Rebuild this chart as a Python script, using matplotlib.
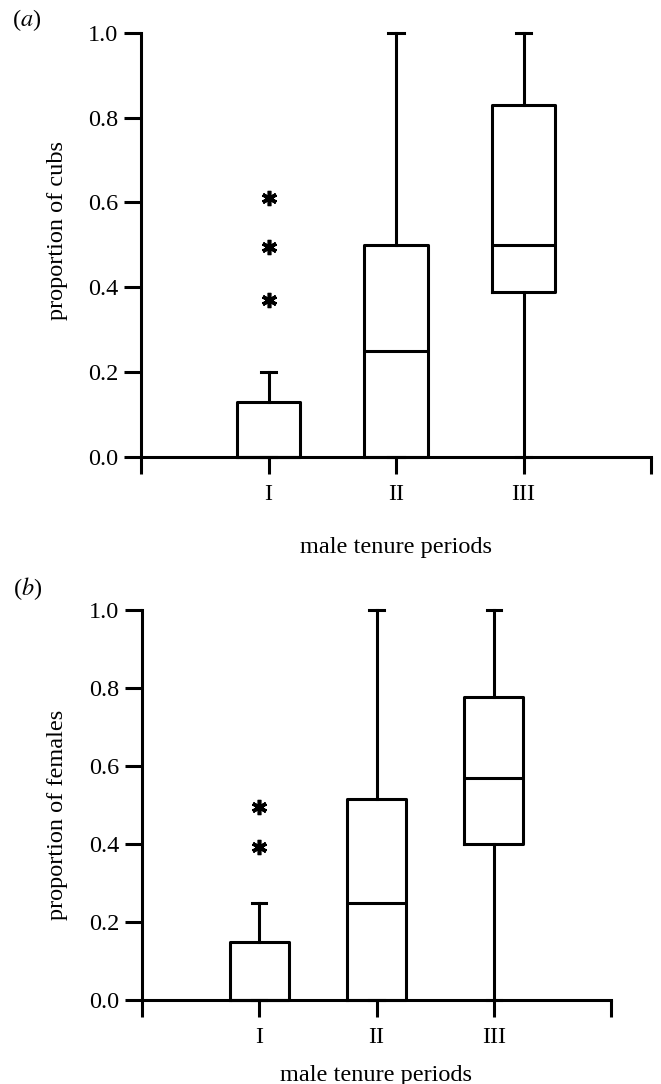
import matplotlib
matplotlib.use("Agg")
import matplotlib.pyplot as plt

plt.rcParams['font.family'] = ['Liberation Serif', 'DejaVu Serif']
plt.rcParams['mathtext.fontset'] = 'stix'

periods = ['I', 'II', 'III']
yticks = [0.0, 0.2, 0.4, 0.6, 0.8, 1.0]

# (a) proportion of cubs
cubs_q1 = [0.0, 0.0, 0.39]
cubs_med = [0.0, 0.25, 0.5]
cubs_q3 = [0.13, 0.5, 0.83]
cubs_lo = [0.0, 0.0, 0.0]
cubs_hi = [0.2, 1.0, 1.0]
cubs_out = [[0.37, 0.495, 0.61], [], []]

# (b) proportion of females
fem_q1 = [0.0, 0.0, 0.4]
fem_med = [0.0, 0.25, 0.57]
fem_q3 = [0.148, 0.515, 0.776]
fem_lo = [0.0, 0.0, 0.0]
fem_hi = [0.25, 1.0, 1.0]
fem_out = [[0.393, 0.494], [], []]

FS = 17.5
LW = 2.2


def draw_panel(ax, q1, med, q3, lo, hi, out, ylabel, tag):
	stats = []
	for i in range(len(periods)):
		stats.append(dict(q1=q1[i], med=med[i], q3=q3[i], whislo=lo[i],
						  whishi=hi[i], fliers=out[i], label=periods[i]))
	line = dict(color='black', linewidth=LW)
	arts = ax.bxp(stats, positions=[1, 2, 3], widths=0.5, capwidths=0.12,
				  boxprops=line, medianprops=line, whiskerprops=line, capprops=line,
				  flierprops=dict(marker=(6, 2, 0), markersize=11, markeredgewidth=2.6,
								  markeredgecolor='black', linestyle='none'))
	for key in arts:
		for a in arts[key]:
			a.set_clip_on(False)

	ax.set_xlim(0, 4)
	ax.set_ylim(0, 1)
	ax.set_xticks([0, 1, 2, 3, 4])
	ax.set_xticklabels([''] + periods + [''])
	ax.set_yticks(yticks)
	ax.set_yticklabels(['%.1f' % v for v in yticks])
	ax.tick_params(direction='out', length=12.2, width=LW, labelsize=FS)
	ax.tick_params(axis='x', pad=7)
	ax.tick_params(axis='y', pad=4)
	for s in ['top', 'right']:
		ax.spines[s].set_visible(False)
	for s in ['left', 'bottom']:
		ax.spines[s].set_linewidth(LW)
	ax.set_ylabel(ylabel, fontsize=FS)
	ax.set_xlabel('male tenure periods', fontsize=FS)
	ax.text(-0.2, 1.03, tag, transform=ax.transAxes, fontsize=FS)


fig = plt.figure(figsize=(6.61, 10.84), dpi=100)
ax1 = fig.add_axes([141 / 661, 627 / 1084, 510 / 661, 424.3 / 1084])
ax2 = fig.add_axes([142 / 661, 84 / 1084, 469 / 661, 390 / 1084])

draw_panel(ax1, cubs_q1, cubs_med, cubs_q3, cubs_lo, cubs_hi, cubs_out,
		   'proportion of cubs', '($a$)')
draw_panel(ax2, fem_q1, fem_med, fem_q3, fem_lo, fem_hi, fem_out,
		   'proportion of females', '($b$)')

# label positions in pixels from the reference
ax1.yaxis.set_label_coords((57 - 141) / 510, (1084 - 230 - 627) / 424.3)
ax2.yaxis.set_label_coords((57 - 142) / 469, (1084 - 815 - 84) / 390)
ax1.xaxis.set_label_coords(0.5, -(547 - 457) / 424.3)
ax2.xaxis.set_label_coords(0.5, -(1075 - 1000) / 390)
for ax in (ax1, ax2):
	ax.yaxis.label.set_va('center')
	ax.xaxis.label.set_va('center')

ax1.texts[0].set_position(((12 - 141) / 510, (1084 - 20 - 627) / 424.3))
ax2.texts[0].set_position(((13 - 142) / 469, (1084 - 589 - 84) / 390))
for ax in (ax1, ax2):
	ax.texts[0].set_va('center')

fig.savefig('out.png', dpi=100)
